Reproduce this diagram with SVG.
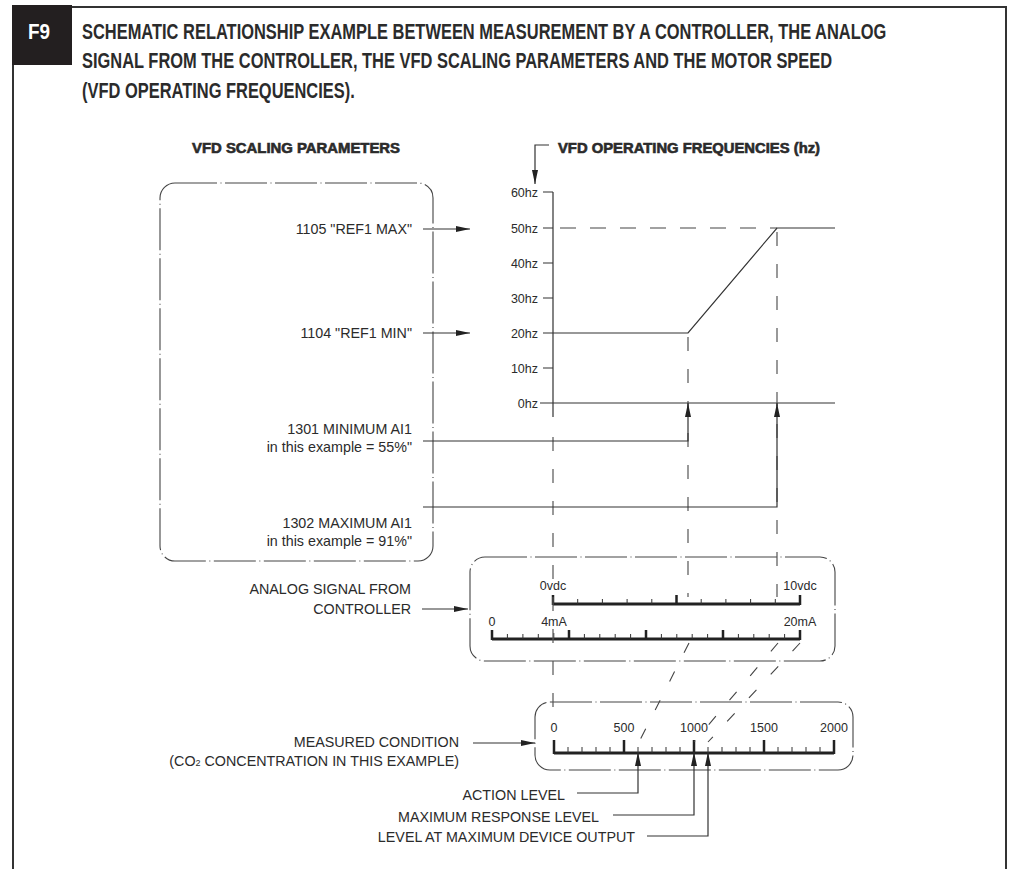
<svg xmlns="http://www.w3.org/2000/svg" width="1010" height="869" viewBox="0 0 1010 869">
<style>
text{font-family:"Liberation Sans",Arial,sans-serif;fill:#2b2b2b}
.t{font-size:22px;font-weight:bold}
.h{font-size:14px;font-weight:bold;stroke:#2b2b2b;stroke-width:0.6}
.l{font-size:14.3px}
.s{font-size:12.5px}
.r{text-anchor:end}
.m{text-anchor:middle}
.ln{fill:none;stroke:#333;stroke-width:1.2}
.dd{fill:none;stroke:#444;stroke-width:1.1;stroke-dasharray:42 3.5 1 3.5}
.dv{fill:none;stroke:#555;stroke-width:1.2;stroke-dasharray:14 18}
.dh{fill:none;stroke:#444;stroke-width:1.2;stroke-dasharray:16 14}
.dg{fill:none;stroke:#444;stroke-width:1.1;stroke-dasharray:11 21}
.sc{fill:none;stroke:#222;stroke-width:3}
.mj{stroke:#222;stroke-width:2.5}
.mn{stroke:#333;stroke-width:1}
.ar{fill:none;stroke:#333;stroke-width:1.2;marker-end:url(#ah)}
</style>
<defs>
<marker id="ah" viewBox="0 0 14 6" markerWidth="14" markerHeight="6" refX="14" refY="3" orient="auto" markerUnits="userSpaceOnUse"><path d="M0,0 L14,3 L0,6 z" fill="#222"/></marker>
</defs>
<g id="frame">
<rect x="12" y="5" width="60" height="60" fill="#231f20"/>
<g transform="translate(39,0) scale(0.86,1)"><text x="0" y="39" class="t m" style="fill:#fff">F9</text></g>
<path d="M72,7 H1007 M1006,6 V869 M13,65 V869" fill="none" stroke="#333" stroke-width="2"/>
</g>
<g id="title" transform="translate(82,0) scale(0.748,1)">
<text x="0" y="39" class="t">SCHEMATIC RELATIONSHIP EXAMPLE BETWEEN MEASUREMENT BY A CONTROLLER, THE ANALOG</text>
<text x="0" y="68" class="t">SIGNAL FROM THE CONTROLLER, THE VFD SCALING PARAMETERS AND THE MOTOR SPEED</text>
<text x="0" y="98" class="t">(VFD OPERATING FREQUENCIES).</text>
</g>
<g id="vfd-scaling-parameters">
<text x="192" y="153" class="h" textLength="208" lengthAdjust="spacingAndGlyphs">VFD SCALING PARAMETERS</text>
<rect x="160" y="183" width="273" height="378" rx="15" class="dd"/>
<text x="412" y="234" class="l r">1105 "REF1 MAX"</text>
<text x="412" y="338" class="l r">1104 "REF1 MIN"</text>
<text x="412" y="434" class="l r">1301 MINIMUM AI1</text>
<text x="412" y="452" class="l r">in this example = 55%"</text>
<text x="412" y="528" class="l r">1302 MAXIMUM AI1</text>
<text x="412" y="546" class="l r">in this example = 91%"</text>
</g>
<g id="vfd-operating-frequencies">
<text x="558" y="153" class="h" textLength="262" lengthAdjust="spacingAndGlyphs">VFD OPERATING FREQUENCIES (hz)</text>
<path class="ln" d="M553,192 V417 M543,192 H553 M543,228 H553 M543,263 H553 M543,298 H553 M543,333 H553 M543,368 H553 M540,403 H835"/>
<path class="dh" d="M560,228 H777"/>
<path class="ln" d="M553,333 H688 L777,228 H835"/>
<text x="538" y="197" class="s r">60hz</text>
<text x="538" y="233" class="s r">50hz</text>
<text x="538" y="268" class="s r">40hz</text>
<text x="538" y="303" class="s r">30hz</text>
<text x="538" y="338" class="s r">20hz</text>
<text x="538" y="373" class="s r">10hz</text>
<text x="538" y="408" class="s r">0hz</text>
</g>
<g id="analog-signal">
<rect x="470" y="557" width="365" height="104" rx="15" class="dd"/>
<text x="411" y="594" class="l r">ANALOG SIGNAL FROM</text>
<text x="411" y="614" class="l r">CONTROLLER</text>
<text x="553" y="590" class="s m">0vdc</text>
<text x="800" y="590" class="s m">10vdc</text>
<path class="sc" d="M553,604 H800"/>
<path class="mj" d="M553,605 V595 M676.5,605 V595 M800,605 V595"/>
<path class="mn" d="M577.7,604 V599 M602.4,604 V599 M627.1,604 V599 M651.8,604 V599 M701.2,604 V599 M725.9,604 V599 M750.6,604 V599 M775.3,604 V599"/>
<text x="492" y="626" class="s m">0</text>
<text x="554" y="626" class="s m">4mA</text>
<text x="800" y="626" class="s m">20mA</text>
<path class="sc" d="M492,639 H800"/>
<path class="mj" d="M492,640 V630 M569,640 V630 M646,640 V630 M723,640 V630 M800,640 V630"/>
<path class="mn" d="M507.4,639 V634 M522.9,639 V634 M538.3,639 V634 M553.8,639 V633 M584.4,639 V634 M599.8,639 V634 M615.2,639 V634 M630.6,639 V634 M661.4,639 V634 M676.8,639 V634 M692.2,639 V634 M707.6,639 V634 M738.4,639 V634 M753.8,639 V634 M769.2,639 V634 M784.6,639 V634"/>
</g>
<g id="measured-condition">
<rect x="535" y="702" width="318" height="68" rx="15" class="dd"/>
<text x="459" y="747" class="l r">MEASURED CONDITION</text>
<text x="459" y="766" class="l r">(CO<tspan font-size="9">2</tspan> CONCENTRATION IN THIS EXAMPLE)</text>
<text x="554" y="732" class="s m">0</text>
<text x="624" y="732" class="s m">500</text>
<text x="694" y="732" class="s m">1000</text>
<text x="764" y="732" class="s m">1500</text>
<text x="834" y="732" class="s m">2000</text>
<path class="sc" d="M554,753 H834"/>
<path class="mj" d="M554,754 V740 M624,754 V740 M694,754 V740 M764,754 V740 M834,754 V740"/>
<path class="mn" d="M568,753 V747 M582,753 V747 M596,753 V747 M610,753 V747 M638,753 V747 M652,753 V747 M666,753 V747 M680,753 V747 M708,753 V747 M722,753 V747 M736,753 V747 M750,753 V747 M778,753 V747 M792,753 V747 M806,753 V747 M820,753 V747"/>
</g>
<g id="levels">
<text x="565" y="800" class="l r">ACTION LEVEL</text>
<text x="599" y="822" class="l r">MAXIMUM RESPONSE LEVEL</text>
<text x="635" y="842" class="l r">LEVEL AT MAXIMUM DEVICE OUTPUT</text>
</g>
<g id="connectors">
<path class="ar" d="M549,145 H535 V184"/>
<path class="ar" d="M423,229 H470"/>
<path class="ar" d="M423,333 H470"/>
<path class="dv" d="M688,337 V597"/>
<path class="dv" d="M777,232 V597"/>
<path class="dv" d="M553,437 V716"/>
<path class="ar" d="M423,441 H688 V403"/>
<path class="ar" d="M423,507 H777 V403"/>
<path class="ar" d="M422,609 H468"/>
<path class="ar" d="M473,743 H535"/>
<path class="dg" d="M689,643 L639,742"/>
<path class="dg" d="M778,643 L694,742"/>
<path class="dg" d="M800,643 L708,742"/>
<path class="ar" d="M577,793 H638 V752"/>
<path class="ar" d="M613,815 H694 V752"/>
<path class="ar" d="M647,836 H708 V752"/>
</g>
</svg>
